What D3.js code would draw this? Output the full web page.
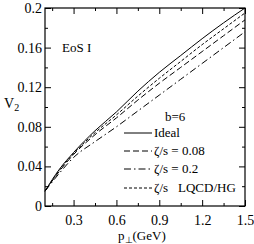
<!DOCTYPE html>
<html><head><meta charset="utf-8">
<script src="https://cdn.jsdelivr.net/npm/d3@7"></script>
<style>body{margin:0;background:#fff}svg{display:block}</style>
</head><body>
<script>
const pt = [0.1,0.2,0.3,0.45,0.6,0.75,0.9,1.05,1.2,1.35,1.5];
const ideal = [0.015,0.037,0.054,0.076,0.095,0.116,0.135,0.152,0.169,0.185,0.2];
const lqcd  = [0.015,0.036,0.053,0.074,0.092,0.111,0.129,0.146,0.163,0.179,0.195];
const z008  = [0.015,0.035,0.052,0.072,0.089,0.107,0.124,0.140,0.156,0.172,0.188];
const z02   = [0.015,0.033,0.049,0.065,0.080,0.096,0.112,0.128,0.144,0.160,0.176];
const xTicks = [0.3,0.6,0.9,1.2,1.5];
const xMinor = [0.15,0.45,0.75,1.05,1.35];
const yTicks = [0,0.04,0.08,0.12,0.16,0.2];
const yMinor = [0.02,0.06,0.10,0.14,0.18];
const yTickLabels = ["0","0.04","0.08","0.12","0.16","0.2"];
const seriesNames = ["Ideal","ζ/s = 0.08","ζ/s = 0.2","ζ/s"];
const lastSuffix = "LQCD/HG";

const FF = "'Liberation Serif','Times New Roman',Times,serif";
const W=254,H=244;
const svg=d3.select("body").append("svg").attr("width",W).attr("height",H).attr("font-family",FF);
const x=d3.scaleLinear().domain([0.1,1.5]).range([45,245]);
const y=d3.scaleLinear().domain([0,0.2]).range([206,8]);

svg.append("rect").attr("x",x(0.1)).attr("y",y(0.2)).attr("width",x(1.5)-x(0.1)).attr("height",y(0)-y(0.2))
 .attr("fill","none").attr("stroke","#000").attr("stroke-width",1.2);

function clean(sel){sel.select(".domain").remove();sel.attr("font-family",FF);return sel;}
const ax=clean(svg.append("g").attr("transform",`translate(0,${y(0)})`)
  .call(d3.axisBottom(x).tickValues(xTicks).tickSize(-6).tickFormat(d3.format(".1f")).tickPadding(9)));
ax.selectAll("text").attr("font-size",14).attr("font-family",FF).attr("fill","#000");
clean(svg.append("g").attr("transform",`translate(0,${y(0)})`).call(d3.axisBottom(x).tickValues(xMinor).tickSize(-3).tickFormat("")));
clean(svg.append("g").attr("transform",`translate(0,${y(0.2)})`).call(d3.axisTop(x).tickValues(xTicks).tickSize(-6).tickFormat("")));
clean(svg.append("g").attr("transform",`translate(0,${y(0.2)})`).call(d3.axisTop(x).tickValues(xMinor).tickSize(-3).tickFormat("")));

const ay=clean(svg.append("g").attr("transform",`translate(${x(0.1)},0)`)
  .call(d3.axisLeft(y).tickValues(yTicks).tickSize(-6).tickFormat((d,i)=>yTickLabels[i]).tickPadding(3)));
ay.selectAll("text").attr("font-size",14).attr("font-family",FF).attr("fill","#000");
clean(svg.append("g").attr("transform",`translate(${x(0.1)},0)`).call(d3.axisLeft(y).tickValues(yMinor).tickSize(-3).tickFormat("")));
clean(svg.append("g").attr("transform",`translate(${x(1.5)},0)`).call(d3.axisRight(y).tickValues(yTicks).tickSize(-6).tickFormat("")));
clean(svg.append("g").attr("transform",`translate(${x(1.5)},0)`).call(d3.axisRight(y).tickValues(yMinor).tickSize(-3).tickFormat("")));
svg.selectAll(".tick line").attr("stroke","#000").attr("stroke-width",1);

const line=d3.line().x((d,i)=>x(pt[i])).y(d=>y(d)).curve(d3.curveMonotoneX);
const styles=[{data:ideal,dash:null},{data:z008,dash:"6,3"},{data:z02,dash:"7,3,1.5,3"},{data:lqcd,dash:"3,2"}];
styles.forEach(s=>{
  svg.append("path").attr("d",line(s.data)).attr("fill","none").attr("stroke","#000").attr("stroke-width",1)
    .attr("stroke-dasharray",s.dash);
});

svg.append("text").attr("x",62).attr("y",52).attr("font-size",13).text("EoS I");
const v=svg.append("text").attr("x",4).attr("y",108).attr("font-size",14);
v.append("tspan").text("V");
v.append("tspan").attr("font-size",10).attr("dy",3).text("2");
const p=svg.append("text").attr("x",118).attr("y",240).attr("font-size",13);
p.append("tspan").text("p");
p.append("tspan").attr("font-size",9).attr("dy",3).text("⊥");
p.append("tspan").attr("dy",-3).text("(GeV)");

svg.append("text").attr("x",165).attr("y",121).attr("font-size",13).text("b=6");
const ly=[133,151,169,188];
styles.forEach((s,i)=>{
  svg.append("line").attr("x1",124).attr("x2",152).attr("y1",ly[i]).attr("y2",ly[i]).attr("stroke","#000").attr("stroke-width",1).attr("stroke-dasharray",s.dash);
  svg.append("text").attr("x",154).attr("y",ly[i]+4).attr("font-size",13).text(seriesNames[i]);
  if(i===3){
    svg.append("text").attr("x",178).attr("y",ly[i]+4).attr("font-size",13).text(lastSuffix);
  }
});
</script>
</body></html>
